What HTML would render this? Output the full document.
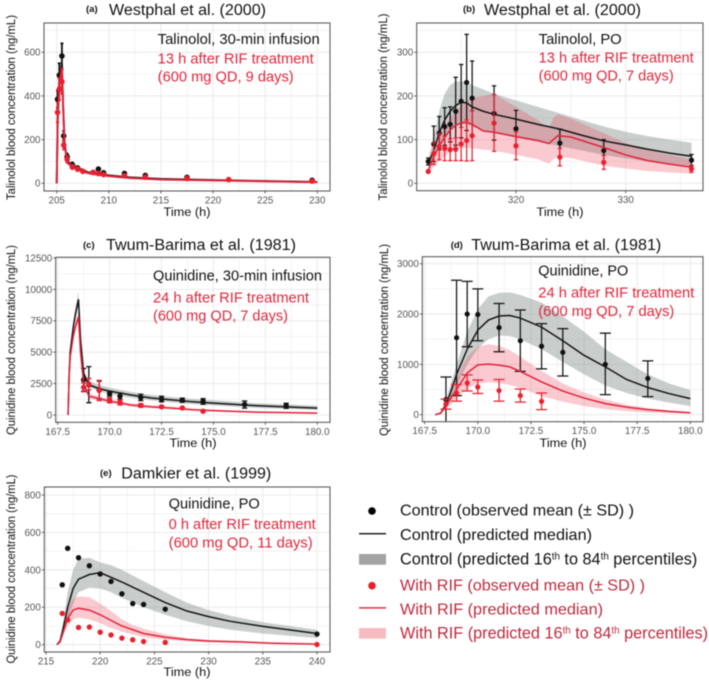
<!DOCTYPE html>
<html lang="en">
<head>
<meta charset="utf-8">
<title>Talinolol and quinidine concentration-time profiles</title>
<style>
html,body{margin:0;padding:0;background:#fff;width:709px;height:682px;overflow:hidden}
svg{display:block;filter:blur(0.5px);font-family:"Liberation Sans",sans-serif}
.ann{font-size:14.4px}
.blk{fill:#111}
.red{fill:#e0263c}
.ttl{font-size:15.5px;fill:#111}
.tag{font-size:9.5px;font-weight:bold;fill:#111}
.ax{font-size:12.2px;fill:#111;text-anchor:middle}
.leg{font-size:16px}
.legb{font-size:16.25px}
.legk{fill:#111}
.legr{fill:#bd2a3c}
.sup{font-size:9.8px}
</style>
</head>
<body>
<svg id="figure" width="709" height="682" viewBox="0 0 709 682" xmlns="http://www.w3.org/2000/svg">
  <g id="marks-layer"></g>

  <!-- Panel a text -->
  <text class="tag" x="86" y="12">(a)</text>
  <text class="ttl" x="109" y="15" textLength="157" lengthAdjust="spacingAndGlyphs">Westphal et al. (2000)</text>
  <text class="ann blk" x="157.7" y="44" textLength="162" lengthAdjust="spacingAndGlyphs">Talinolol, 30-min infusion</text>
  <text class="ann red" x="157.7" y="63.3" textLength="156" lengthAdjust="spacingAndGlyphs">13 h after RIF treatment</text>
  <text class="ann red" x="157.7" y="81.7" textLength="136" lengthAdjust="spacingAndGlyphs">(600 mg QD, 9 days)</text>
  <text class="ax" x="187" y="216" textLength="47" lengthAdjust="spacingAndGlyphs">Time (h)</text>
  <text class="ax" transform="translate(15,107.5) rotate(-90)" textLength="185" lengthAdjust="spacingAndGlyphs">Talinolol blood concentration (ng/mL)</text>

  <!-- Panel b text -->
  <text class="tag" x="463" y="12">(b)</text>
  <text class="ttl" x="484" y="15" textLength="157" lengthAdjust="spacingAndGlyphs">Westphal et al. (2000)</text>
  <text class="ann blk" x="538.7" y="44" textLength="83" lengthAdjust="spacingAndGlyphs">Talinolol, PO</text>
  <text class="ann red" x="538.7" y="62.3" textLength="155" lengthAdjust="spacingAndGlyphs">13 h after RIF treatment</text>
  <text class="ann red" x="538.7" y="80.3" textLength="135" lengthAdjust="spacingAndGlyphs">(600 mg QD, 7 days)</text>
  <text class="ax" x="560" y="216" textLength="47" lengthAdjust="spacingAndGlyphs">Time (h)</text>
  <text class="ax" transform="translate(387,107) rotate(-90)" textLength="187" lengthAdjust="spacingAndGlyphs">Talinolol blood concentration (ng/mL)</text>

  <!-- Panel c text -->
  <text class="tag" x="83" y="248">(c)</text>
  <text class="ttl" x="106" y="250" textLength="190" lengthAdjust="spacingAndGlyphs">Twum-Barima et al. (1981)</text>
  <text class="ann blk" x="153" y="280.7" textLength="169" lengthAdjust="spacingAndGlyphs">Quinidine, 30-min infusion</text>
  <text class="ann red" x="153" y="302.7" textLength="156" lengthAdjust="spacingAndGlyphs">24 h after RIF treatment</text>
  <text class="ann red" x="153" y="320.7" textLength="135" lengthAdjust="spacingAndGlyphs">(600 mg QD, 7 days)</text>
  <text class="ax" x="193" y="447" textLength="47" lengthAdjust="spacingAndGlyphs">Time (h)</text>
  <text class="ax" transform="translate(15,340) rotate(-90)" textLength="190" lengthAdjust="spacingAndGlyphs">Quinidine blood concentration (ng/mL)</text>

  <!-- Panel d text -->
  <text class="tag" x="450.7" y="248">(d)</text>
  <text class="ttl" x="471.3" y="250" textLength="190" lengthAdjust="spacingAndGlyphs">Twum-Barima et al. (1981)</text>
  <text class="ann blk" x="538.3" y="275.7" textLength="90" lengthAdjust="spacingAndGlyphs">Quinidine, PO</text>
  <text class="ann red" x="538.3" y="297.7" textLength="156" lengthAdjust="spacingAndGlyphs">24 h after RIF treatment</text>
  <text class="ann red" x="538.3" y="316" textLength="136" lengthAdjust="spacingAndGlyphs">(600 mg QD, 7 days)</text>
  <text class="ax" x="563" y="447" textLength="47" lengthAdjust="spacingAndGlyphs">Time (h)</text>
  <text class="ax" transform="translate(388,340) rotate(-90)" textLength="192" lengthAdjust="spacingAndGlyphs">Quinidine blood concentration (ng/mL)</text>

  <!-- Panel e text -->
  <text class="tag" x="100" y="476">(e)</text>
  <text class="ttl" x="121.3" y="478.3" textLength="150" lengthAdjust="spacingAndGlyphs">Damkier et al. (1999)</text>
  <text class="ann blk" x="168.7" y="508.3" textLength="91" lengthAdjust="spacingAndGlyphs">Quinidine, PO</text>
  <text class="ann red" x="168.7" y="529" textLength="147" lengthAdjust="spacingAndGlyphs">0 h after RIF treatment</text>
  <text class="ann red" x="168.7" y="547.7" textLength="144" lengthAdjust="spacingAndGlyphs">(600 mg QD, 11 days)</text>
  <text class="ax" x="187" y="676" textLength="47" lengthAdjust="spacingAndGlyphs">Time (h)</text>
  <text class="ax" transform="translate(15,569) rotate(-90)" textLength="189" lengthAdjust="spacingAndGlyphs">Quinidine blood concentration (ng/mL)</text>

  <!-- Legend -->
  <g>
    <circle cx="372" cy="511" r="3.8" fill="#000"/>
    <text class="leg legk" x="400" y="515.7" textLength="234" lengthAdjust="spacingAndGlyphs">Control (observed mean (± SD) )</text>
    <rect x="359" y="533" width="27" height="1.4" fill="#111"/>
    <text class="leg legk" x="400" y="540" textLength="192" lengthAdjust="spacingAndGlyphs">Control (predicted median)</text>
    <rect x="359" y="554" width="27" height="10.7" fill="#a3a3a3"/>
    <text class="legb legk" x="400" y="564.3">Control (predicted 16<tspan class="sup" dy="-5">th</tspan><tspan dy="5"> to 84</tspan><tspan class="sup" dy="-5">th</tspan><tspan dy="5"> percentiles)</tspan></text>
    <circle cx="372" cy="585.7" r="3.8" fill="#e8202f"/>
    <text class="leg legr" x="400" y="590.3" textLength="245" lengthAdjust="spacingAndGlyphs">With RIF (observed mean (± SD) )</text>
    <rect x="359" y="607.2" width="27" height="1.4" fill="#dc2438"/>
    <text class="leg legr" x="400" y="614.7" textLength="203" lengthAdjust="spacingAndGlyphs">With RIF (predicted median)</text>
    <rect x="359" y="628" width="27" height="10.7" fill="#f6bcc2"/>
    <text class="legb legr" x="400" y="638.7">With RIF (predicted 16<tspan class="sup" dy="-5">th</tspan><tspan dy="5"> to 84</tspan><tspan class="sup" dy="-5">th</tspan><tspan dy="5"> percentiles)</tspan></text>
  </g>
</svg>

<script>
/* ---------- Panel (a) ---------- */
var aXTicks = [205, 210, 215, 220, 225, 230];
var aYTicks = [0, 200, 400, 600];
var aCurveT = [205, 205.1, 205.25, 205.5, 205.6, 205.75, 206, 206.5, 207, 208, 209, 210, 212, 215, 220, 225, 230];
var aCtlMedian = [0, 300, 470, 545, 380, 190, 100, 82, 70, 50, 42, 36, 27, 20, 15, 10, 6];
var aCtlLow = [0, 270, 430, 500, 340, 165, 88, 72, 60, 43, 36, 30, 22, 16, 12, 8, 4];
var aCtlHigh = [0, 330, 510, 590, 420, 215, 112, 92, 80, 58, 48, 42, 32, 24, 18, 12, 8];
var aRifMedian = [0, 290, 455, 530, 370, 180, 95, 78, 66, 47, 39, 33, 24, 17, 13, 9, 5];
var aRifLow = [0, 260, 415, 485, 330, 155, 83, 68, 56, 40, 33, 27, 20, 14, 10, 7, 3];
var aRifHigh = [0, 320, 495, 575, 410, 205, 107, 88, 76, 54, 45, 39, 29, 20, 16, 11, 7];
var aCtlObsT = [205.08, 205.25, 205.5, 205.67, 206, 206.5, 207, 208.5, 209, 209.5, 211.5, 213.5, 217.5, 229.5];
var aCtlObs = [385, 495, 583, 217, 122, 85, 70, 50, 65, 48, 45, 36, 27, 14];
var aCtlObsLow = [345, 440, 525, 195, 108, 75, 62, 44, 60, 42, 40, 32, 24, 11];
var aCtlObsHigh = [425, 550, 641, 240, 136, 95, 78, 56, 70, 54, 50, 40, 30, 17];
var aRifObsT = [205.08, 205.25, 205.5, 205.67, 206, 206.5, 207, 207.5, 208.5, 209, 209.5, 211.5, 213.5, 217.5, 221.5, 229.5];
var aRifObs = [325, 430, 465, 175, 110, 75, 65, 55, 50, 45, 40, 35, 28, 22, 17, 10];
var aRifObsLow = [280, 380, 410, 155, 95, 65, 57, 48, 44, 40, 35, 30, 24, 19, 14, 8];
var aRifObsHigh = [370, 480, 520, 195, 125, 85, 73, 62, 56, 50, 45, 40, 32, 25, 20, 12];

/* ---------- Panel (b) ---------- */
var bXTicks = [320, 330];
var bYTicks = [0, 100, 200, 300];
var bCtlCurveT = [312, 312.5, 313, 313.5, 314, 314.5, 315, 315.5, 316, 317, 318, 320, 322, 324, 326, 328, 330, 332, 334, 336];
var bCtlMedian = [45, 75, 115, 145, 165, 178, 186, 184, 175, 165, 158, 147, 135, 124, 110, 97, 88, 78, 69, 62];
var bCtlLow = [38, 60, 85, 105, 120, 130, 135, 135, 130, 122, 115, 105, 95, 85, 75, 65, 57, 50, 45, 40];
var bCtlHigh = [55, 105, 165, 205, 225, 233, 234, 231, 225, 215, 205, 190, 175, 160, 145, 130, 118, 108, 100, 93];
var bRifCurveT = [312, 312.5, 313, 313.5, 314, 314.5, 315, 315.5, 316, 317, 318, 320, 322, 323, 323.4, 323.8, 325, 328, 330, 332, 334, 336];
var bRifMedian = [30, 60, 85, 105, 122, 133, 138, 140, 135, 120, 117, 107, 98, 91, 100, 109, 106, 82, 65, 52, 44, 37];
var bRifLow = [22, 38, 50, 62, 72, 78, 80, 82, 80, 77, 75, 65, 55, 45, 55, 60, 58, 40, 34, 28, 25, 22];
var bRifHigh = [35, 75, 105, 130, 150, 165, 178, 190, 195, 200, 205, 175, 145, 125, 150, 158, 148, 115, 92, 75, 65, 55];
var bCtlObsT = [312, 312.5, 313, 313.5, 314, 314.5, 315, 315.5, 316, 318, 320, 324, 328, 336];
var bCtlObs = [50, 90, 115, 130, 135, 165, 188, 231, 195, 160, 125, 92, 75, 53];
var bCtlObsLow = [42, 50, 77, 87, 95, 87, 104, 121, 110, 99, 83, 60, 50, 40];
var bCtlObsHigh = [58, 131, 153, 173, 175, 243, 272, 341, 280, 223, 167, 124, 100, 66];
var bRifObsT = [312, 312.5, 313, 313.5, 314, 314.5, 315, 315.5, 316, 318, 320, 324, 328, 336];
var bRifObs = [27, 68, 84, 80, 77, 78, 90, 98, 109, 138, 86, 60, 48, 33];
var bRifObsLow = [24, 43, 54, 52, 52, 52, 52, 51, 52, 73, 54, 40, 32, 25];
var bRifObsHigh = [30, 93, 114, 108, 102, 104, 128, 145, 166, 203, 118, 80, 64, 41];

/* ---------- Panel (c) ---------- */
var cXTicks = [167.5, 170, 172.5, 175, 177.5, 180];
var cYTicks = [0, 2500, 5000, 7500, 10000, 12500];
var cCurveT = [168, 168.05, 168.1, 168.25, 168.35, 168.5, 168.6, 168.75, 169, 169.5, 170, 171, 172, 173, 174, 175, 177, 180];
var cCtlMedian = [0, 3200, 5000, 7000, 8000, 9200, 6000, 3300, 2400, 2100, 1900, 1600, 1350, 1200, 1050, 950, 750, 550];
var cCtlLow = [0, 3000, 4700, 6600, 7500, 8700, 5600, 3000, 2200, 1900, 1650, 1380, 1150, 1000, 860, 760, 570, 400];
var cCtlHigh = [0, 3400, 5300, 7400, 8500, 9800, 6500, 3600, 2700, 2400, 2180, 1850, 1600, 1430, 1280, 1170, 950, 750];
var cRifMedian = [0, 3000, 4600, 6300, 7000, 7800, 5000, 2500, 1500, 1300, 1100, 800, 650, 550, 420, 350, 230, 150];
var cRifLow = [0, 2800, 4300, 5900, 6600, 7400, 4700, 2250, 1320, 1130, 950, 680, 540, 450, 340, 280, 175, 105];
var cRifHigh = [0, 3200, 4900, 6700, 7400, 8200, 5300, 2750, 1720, 1480, 1270, 940, 780, 660, 510, 430, 290, 200];
var cCtlObsT = [168.75, 169, 169.5, 170, 170.5, 171.5, 172.5, 173.5, 174.5, 176.5, 178.5];
var cCtlObs = [2800, 2400, 2000, 1700, 1500, 1400, 1270, 1180, 1080, 830, 730];
var cCtlObsLow = [1900, 980, 1300, 1500, 1250, 1150, 1050, 1020, 860, 550, 530];
var cCtlObsHigh = [3700, 3850, 2700, 1900, 1750, 1650, 1490, 1340, 1300, 1110, 930];
var cRifObsT = [168.75, 169, 169.5, 170, 170.5, 171.5, 172.5, 173.5, 174.5];
var cRifObs = [2200, 2450, 1950, 1170, 1000, 760, 650, 560, 300];
var cRifObsLow = [1850, 2000, 1150, 970, 800, 620, 580, 510, 250];
var cRifObsHigh = [2550, 2900, 2750, 1370, 1200, 900, 720, 610, 350];

/* ---------- Panel (d) ---------- */
var dXTicks = [167.5, 170, 172.5, 175, 177.5, 180];
var dYTicks = [0, 1000, 2000, 3000];
var dCtlCurveT = [168, 168.25, 168.5, 168.75, 169, 169.5, 170, 170.5, 171, 171.5, 172, 173, 174, 175, 176, 177, 178, 179, 180];
var dCtlMedian = [0, 30, 200, 480, 800, 1300, 1680, 1880, 1960, 1970, 1920, 1740, 1470, 1180, 950, 700, 540, 420, 320];
var dCtlLow = [0, 20, 120, 320, 550, 1000, 1320, 1500, 1570, 1560, 1500, 1300, 1050, 800, 580, 430, 320, 240, 170];
var dCtlHigh = [0, 40, 300, 640, 1000, 1650, 2100, 2350, 2420, 2430, 2380, 2230, 1950, 1650, 1300, 1050, 800, 620, 490];
var dRifCurveT = [168, 168.25, 168.5, 169, 169.5, 170, 170.5, 171, 171.5, 172, 173, 174, 175, 176, 177, 178, 179, 180];
var dRifMedian = [0, 30, 170, 500, 830, 990, 1005, 985, 950, 860, 650, 470, 330, 220, 150, 100, 65, 40];
var dRifLow = [0, 20, 120, 320, 520, 620, 640, 630, 590, 530, 370, 260, 170, 110, 70, 45, 30, 20];
var dRifHigh = [0, 40, 230, 720, 1150, 1350, 1400, 1370, 1280, 1150, 870, 620, 440, 300, 200, 130, 85, 50];
var dCtlObsT = [168.5, 169, 169.5, 170, 171, 172, 173, 174, 176, 178];
var dCtlObs = [300, 1530, 2000, 1990, 1730, 1470, 1360, 1240, 1000, 720];
var dCtlObsLow = [-150, 380, 1350, 1470, 1250, 860, 910, 770, 400, 360];
var dCtlObsHigh = [750, 2670, 2650, 2500, 2210, 2080, 1810, 1710, 1620, 1070];
var dRifObsT = [168.5, 169, 169.5, 170, 171, 172, 173];
var dRifObs = [210, 430, 630, 550, 480, 380, 265];
var dRifObsLow = [110, 270, 470, 420, 270, 250, 100];
var dRifObsHigh = [310, 600, 790, 690, 700, 510, 430];

/* ---------- Panel (e) ---------- */
var eXTicks = [215, 220, 225, 230, 235, 240];
var eYTicks = [0, 200, 400, 600, 800];
var eCtlCurveT = [216, 216.3, 216.6, 217, 217.5, 218, 219, 220, 221, 222, 224, 226, 228, 230, 232, 235, 240];
var eCtlMedian = [0, 20, 90, 200, 300, 350, 375, 385, 360, 335, 280, 225, 180, 150, 125, 98, 60];
var eCtlLow = [0, 12, 60, 140, 220, 280, 305, 300, 280, 250, 200, 160, 125, 100, 80, 60, 35];
var eCtlHigh = [0, 30, 130, 280, 400, 460, 465, 440, 425, 400, 340, 280, 225, 185, 155, 120, 80];
var eRifCurveT = [216, 216.3, 216.6, 217, 217.5, 218, 219, 220, 221, 222, 223, 224, 226, 228, 230, 233, 236, 240];
var eRifMedian = [0, 15, 70, 140, 185, 195, 185, 160, 130, 100, 80, 60, 40, 27, 20, 15, 8, 3];
var eRifLow = [0, 10, 50, 100, 135, 145, 135, 115, 90, 70, 55, 40, 27, 18, 12, 8, 4, 1];
var eRifHigh = [0, 22, 100, 190, 245, 258, 255, 220, 180, 135, 105, 85, 55, 35, 25, 18, 11, 5];
var eCtlObsT = [216.5, 217, 218, 219, 220, 221, 222, 223, 224, 226, 240];
var eCtlObs = [320, 515, 465, 422, 378, 338, 272, 220, 215, 190, 57];
var eRifObsT = [216.5, 217, 218, 219, 220, 221, 222, 223, 224, 226, 240];
var eRifObs = [167, 133, 92, 94, 67, 52, 35, 26, 17, 12, 1];

/* ---------- Axis geometry per panel ---------- */
var SVGNS = 'http://www.w3.org/2000/svg';
var layer = document.getElementById('marks-layer');

function mk(tag, parent, attrs) {
  var n = document.createElementNS(SVGNS, tag);
  for (var k in attrs) n.setAttribute(k, attrs[k]);
  parent.appendChild(n);
  return n;
}

function linearScale(d0, d1, r0, r1) {
  return function (v) { return r0 + (v - d0) * (r1 - r0) / (d1 - d0); };
}

function linePath(ts, ys, x, y) {
  var s = '';
  for (var i = 0; i < ts.length; i++) s += (i ? 'L' : 'M') + x(ts[i]).toFixed(2) + ' ' + y(ys[i]).toFixed(2);
  return s;
}

function bandPath(ts, lo, hi, x, y) {
  var s = linePath(ts, hi, x, y);
  for (var i = ts.length - 1; i >= 0; i--) s += 'L' + x(ts[i]).toFixed(2) + ' ' + y(lo[i]).toFixed(2);
  return s + 'Z';
}

function drawPanel(p) {
  var g = mk('g', layer, {});
  
  
  var x = linearScale(p.xd[0], p.xd[1], p.xr[0], p.xr[1]);
  var y = linearScale(p.yd[0], p.yd[1], p.yr[0], p.yr[1]);
  var L = p.box[0], T = p.box[1], R = p.box[2], B = p.box[3];

  var clipId = 'clip-' + p.id;
  var defs = mk('defs', g, {});
  var cp = mk('clipPath', defs, { id: clipId });
  mk('rect', cp, { x: L, y: T, width: R - L, height: B - T });

  // Grid
  var grid = mk('g', g, { stroke: '#ececec', fill: 'none' });
  
  
  var xStep = p.xTicks.length > 1 ? p.xTicks[1] - p.xTicks[0] : 1;
  var yStep = p.yTicks[1] - p.yTicks[0];
  var i, v;
  for (v = p.xTicks[0] - xStep / 2; v < p.xTicks[p.xTicks.length - 1] + xStep; v += xStep / 2) {
    if (x(v) > L && x(v) < R) mk('line', grid, { x1: x(v), x2: x(v), y1: T, y2: B, 'stroke-width': 0.6 });
  }
  for (v = p.yTicks[0] - yStep / 2; v < p.yTicks[p.yTicks.length - 1] + yStep; v += yStep / 2) {
    if (y(v) > T && y(v) < B) mk('line', grid, { x1: L, x2: R, y1: y(v), y2: y(v), 'stroke-width': 0.6 });
  }
  for (i = 0; i < p.xTicks.length; i++) mk('line', grid, { x1: x(p.xTicks[i]), x2: x(p.xTicks[i]), y1: T, y2: B, 'stroke-width': 1.1 });
  for (i = 0; i < p.yTicks.length; i++) mk('line', grid, { x1: L, x2: R, y1: y(p.yTicks[i]), y2: y(p.yTicks[i]), 'stroke-width': 1.1 });

  var plot = mk('g', g, { 'clip-path': 'url(#' + clipId + ')' });

  // Bands
  var band1 = mk('path', plot, { d: bandPath(p.ctlT, p.ctlLow, p.ctlHigh, x, y), fill: '#7f8a88', 'fill-opacity': 0.42 });
  
  
  var band2 = mk('path', plot, { d: bandPath(p.rifT, p.rifLow, p.rifHigh, x, y), fill: '#ee3c50', 'fill-opacity': 0.27 });
  
  

  // Control observations, then control line, red series on top
  drawObs(plot, p, 'control', p.ctlObsT, p.ctlObs, p.ctlObsLow, p.ctlObsHigh, '#111', x, y);
  var line1 = mk('path', plot, { d: linePath(p.ctlT, p.ctlMedian, x, y), fill: 'none', stroke: '#151515', 'stroke-width': p.lineWidth });
  
  
  var line2 = mk('path', plot, { d: linePath(p.rifT, p.rifMedian, x, y), fill: 'none', stroke: '#e0233a', 'stroke-width': p.lineWidth });
  
  
  drawObs(plot, p, 'rif', p.rifObsT, p.rifObs, p.rifObsLow, p.rifObsHigh, '#e8202f', x, y);

  // Frame
  var frame = mk('rect', g, { x: L, y: T, width: R - L, height: B - T, fill: 'none', stroke: '#5c5c5c', 'stroke-width': 1.1 });
  
  

  // Ticks and labels
  for (i = 0; i < p.xTicks.length; i++) {
    var xt = p.xTicks[i];
    mk('line', g, { x1: x(xt), x2: x(xt), y1: B, y2: B + 2.5, stroke: '#444', 'stroke-width': 0.8 });
    var xl = mk('text', g, { x: x(xt), y: B + 12.5, 'text-anchor': 'middle', 'font-size': 9.8, fill: '#555' });
    
    
    xl.textContent = p.xFixed ? xt.toFixed(1) : String(xt);
  }
  for (i = 0; i < p.yTicks.length; i++) {
    var yt = p.yTicks[i];
    mk('line', g, { x1: L - 2.5, x2: L, y1: y(yt), y2: y(yt), stroke: '#444', 'stroke-width': 0.8 });
    var yl = mk('text', g, { x: L - 3.5, y: y(yt) + 3.4, 'text-anchor': 'end', 'font-size': 9.8, fill: '#555' });
    
    
    yl.textContent = String(yt);
  }
}

function drawObs(parent, p, kind, ts, ys, lo, hi, color, x, y) {
  for (var i = 0; i < ts.length; i++) {
    var px = x(ts[i]);
    if (lo && hi) {
      var bar = mk('path', parent, {
        d: 'M' + px + ' ' + y(lo[i]) + 'V' + y(hi[i]) +
           'M' + (px - p.cap) + ' ' + y(lo[i]) + 'H' + (px + p.cap) +
           'M' + (px - p.cap) + ' ' + y(hi[i]) + 'H' + (px + p.cap),
        stroke: color, 'stroke-width': p.barWidth, fill: 'none'
      });
      
      
    }
    var dot = mk('circle', parent, { cx: px, cy: y(ys[i]), r: p.dot, fill: color });
    
    
  }
}

drawPanel({
  id: 'a', box: [44, 23, 330, 191], xd: [205, 230], xr: [56.7, 317.3], yd: [0, 600], yr: [183.3, 52.3],
  xTicks: aXTicks, yTicks: aYTicks, xFixed: false, cap: 1.5, barWidth: 1.8, dot: 2.8, lineWidth: 1.9,
  ctlT: aCurveT, ctlMedian: aCtlMedian, ctlLow: aCtlLow, ctlHigh: aCtlHigh,
  rifT: aCurveT, rifMedian: aRifMedian, rifLow: aRifLow, rifHigh: aRifHigh,
  ctlObsT: aCtlObsT, ctlObs: aCtlObs, ctlObsLow: aCtlObsLow, ctlObsHigh: aCtlObsHigh,
  rifObsT: aRifObsT, rifObs: aRifObs, rifObsLow: aRifObsLow, rifObsHigh: aRifObsHigh
});
drawPanel({
  id: 'b', box: [416.7, 23, 703, 190.7], xd: [320, 330], xr: [516, 625.7], yd: [0, 300], yr: [183.3, 52.3],
  xTicks: bXTicks, yTicks: bYTicks, xFixed: false, cap: 2.2, barWidth: 1.25, dot: 2.6, lineWidth: 1.5,
  ctlT: bCtlCurveT, ctlMedian: bCtlMedian, ctlLow: bCtlLow, ctlHigh: bCtlHigh,
  rifT: bRifCurveT, rifMedian: bRifMedian, rifLow: bRifLow, rifHigh: bRifHigh,
  ctlObsT: bCtlObsT, ctlObs: bCtlObs, ctlObsLow: bCtlObsLow, ctlObsHigh: bCtlObsHigh,
  rifObsT: bRifObsT, rifObs: bRifObs, rifObsLow: bRifObsLow, rifObsHigh: bRifObsHigh
});
drawPanel({
  id: 'c', box: [55.7, 257.3, 330, 422.3], xd: [167.5, 180], xr: [57.7, 317.3], yd: [0, 12500], yr: [415, 258],
  xTicks: cXTicks, yTicks: cYTicks, xFixed: true, cap: 2.6, barWidth: 1.3, dot: 2.7, lineWidth: 1.5,
  ctlT: cCurveT, ctlMedian: cCtlMedian, ctlLow: cCtlLow, ctlHigh: cCtlHigh,
  rifT: cCurveT, rifMedian: cRifMedian, rifLow: cRifLow, rifHigh: cRifHigh,
  ctlObsT: cCtlObsT, ctlObs: cCtlObs, ctlObsLow: cCtlObsLow, ctlObsHigh: cCtlObsHigh,
  rifObsT: cRifObsT, rifObs: cRifObs, rifObsLow: cRifObsLow, rifObsHigh: cRifObsHigh
});
drawPanel({
  id: 'd', box: [422.3, 256.7, 703, 421.7], xd: [167.5, 180], xr: [424.7, 690.3], yd: [0, 3000], yr: [414.7, 263.7],
  xTicks: dXTicks, yTicks: dYTicks, xFixed: true, cap: 5.5, barWidth: 1.25, dot: 2.6, lineWidth: 1.5,
  ctlT: dCtlCurveT, ctlMedian: dCtlMedian, ctlLow: dCtlLow, ctlHigh: dCtlHigh,
  rifT: dRifCurveT, rifMedian: dRifMedian, rifLow: dRifLow, rifHigh: dRifHigh,
  ctlObsT: dCtlObsT, ctlObs: dCtlObs, ctlObsLow: dCtlObsLow, ctlObsHigh: dCtlObsHigh,
  rifObsT: dRifObsT, rifObs: dRifObs, rifObsLow: dRifObsLow, rifObsHigh: dRifObsHigh
});
drawPanel({
  id: 'e', box: [44.3, 487, 330, 652], xd: [215, 240], xr: [46, 317], yd: [0, 800], yr: [644.7, 495],
  xTicks: eXTicks, yTicks: eYTicks, xFixed: false, cap: 0, barWidth: 0, dot: 2.7, lineWidth: 1.5,
  ctlT: eCtlCurveT, ctlMedian: eCtlMedian, ctlLow: eCtlLow, ctlHigh: eCtlHigh,
  rifT: eRifCurveT, rifMedian: eRifMedian, rifLow: eRifLow, rifHigh: eRifHigh,
  ctlObsT: eCtlObsT, ctlObs: eCtlObs, ctlObsLow: null, ctlObsHigh: null,
  rifObsT: eRifObsT, rifObs: eRifObs, rifObsLow: null, rifObsHigh: null
});
</script>
</body>
</html>
